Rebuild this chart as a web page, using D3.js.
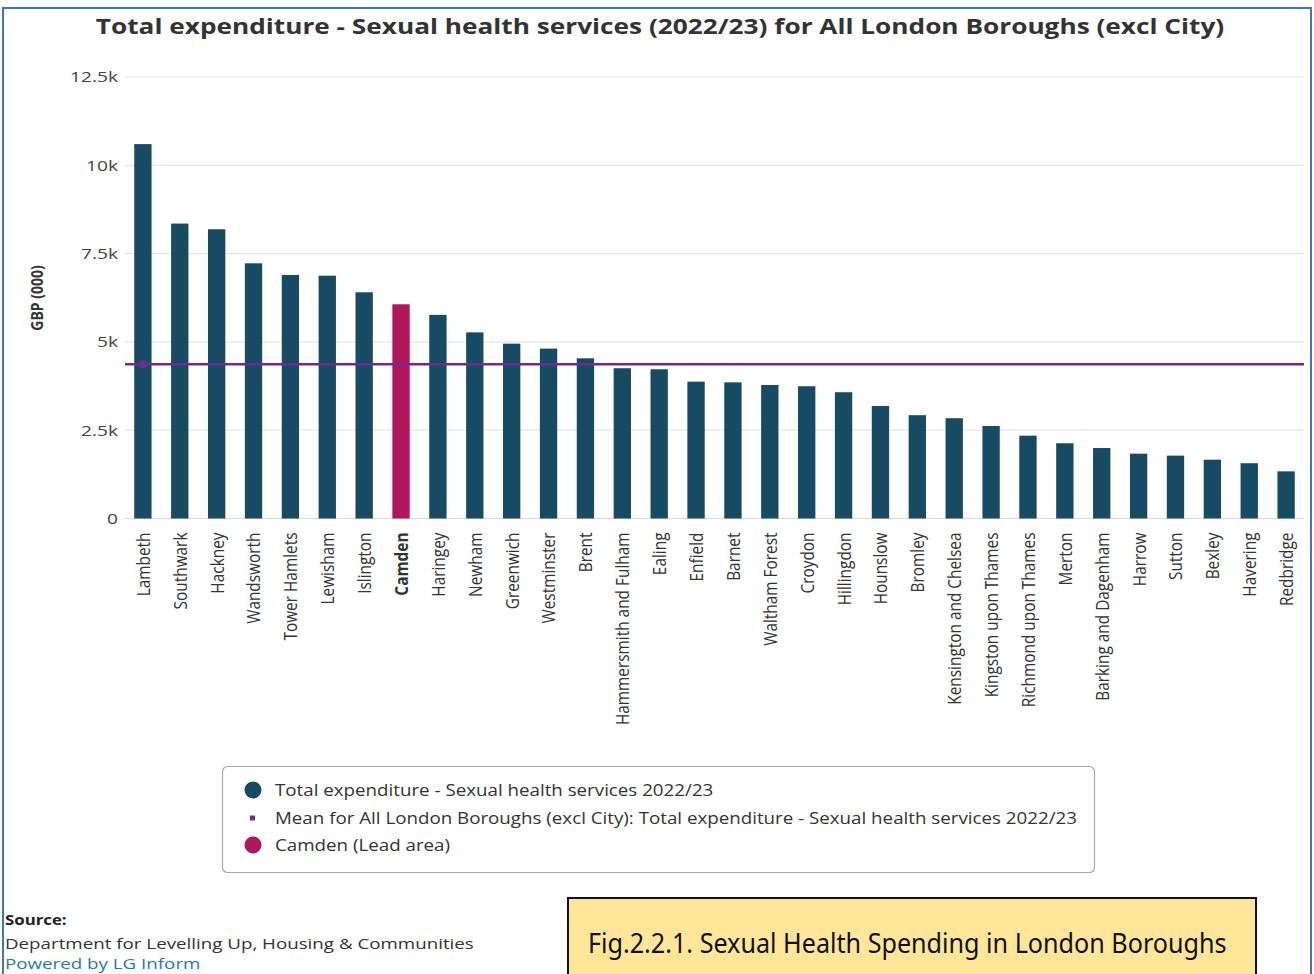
<!DOCTYPE html>
<html>
<head>
<meta charset="utf-8">
<script src="https://cdn.jsdelivr.net/npm/d3@7/dist/d3.min.js"></script>
<style>
  html, body { margin: 0; padding: 0; background: #ffffff; }
  svg { display: block; }
</style>
</head>
<body>
<svg id="chart" width="1314" height="974"></svg>
<script>
const categories = [
  "Lambeth", "Southwark", "Hackney", "Wandsworth", "Tower Hamlets", "Lewisham",
  "Islington", "Camden", "Haringey", "Newham", "Greenwich", "Westminster", "Brent",
  "Hammersmith and Fulham", "Ealing", "Enfield", "Barnet", "Waltham Forest",
  "Croydon", "Hillingdon", "Hounslow", "Bromley", "Kensington and Chelsea",
  "Kingston upon Thames", "Richmond upon Thames", "Merton", "Barking and Dagenham",
  "Harrow", "Sutton", "Bexley", "Havering", "Redbridge"
];
const values = [
  10600, 8350, 8190, 7225, 6895, 6875,
  6405, 6065, 5765, 5270, 4950, 4810, 4535,
  4255, 4225, 3875, 3855, 3780,
  3745, 3575, 3185, 2925, 2840,
  2620, 2345, 2130, 1995,
  1835, 1780, 1665, 1565, 1335
];
const leadArea = "Camden";
const meanValue = 4366;
const yTickValues = [0, 2500, 5000, 7500, 10000, 12500];
const yTickLabels = ["0", "2.5k", "5k", "7.5k", "10k", "12.5k"];
const titleText = "Total expenditure - Sexual health services (2022/23) for All London Boroughs (excl City)";
const yAxisTitle = "GBP (000)";
const legendLabels = [
  "Total expenditure - Sexual health services 2022/23",
  "Mean for All London Boroughs (excl City): Total expenditure - Sexual health services 2022/23",
  "Camden (Lead area)"
];
const sourceLines = ["Source:", "Department for Levelling Up, Housing & Communities", "Powered by LG Inform"];
const captionText = "Fig.2.2.1. Sexual Health Spending in London Boroughs";

const COL_BAR = "#174b63";
const COL_LEAD = "#b0175a";
const COL_MEAN = "#6e2d8c";
const FONT = "'Open Sans', 'Noto Sans', sans-serif";
const SX = 1.22; // horizontal stretch of the source screenshot's text

const svg = d3.select("#chart");

// place a horizontally stretched text anchored at (ax, ay)
function stretched(parent, ax, ay, sx) {
  return parent.append("text")
    .attr("x", 0).attr("y", 0)
    .attr("transform", `translate(${ax},${ay}) scale(${sx},1)`);
}

// outer frame (blue border)
svg.append("path")
  .attr("d", "M3,974 L3,8 L1311,8 L1311,974")
  .attr("fill", "none").attr("stroke", "#4472c4").attr("stroke-width", 2);

// title
stretched(svg, 660, 25, SX)
  .attr("text-anchor", "middle").attr("dominant-baseline", "central")
  .attr("font-family", FONT).attr("font-weight", 700).attr("font-size", 21.5)
  .attr("fill", "#333333")
  .text(titleText);

const plotLeft = 125, plotRight = 1304;
const x = d3.scaleBand().domain(categories).range([plotLeft, plotRight])
  .paddingInner(0.53).paddingOuter(0.25);
const y = d3.scaleLinear().domain([0, 12500]).range([518.5, 77]);

// gridlines
svg.append("g").selectAll("line").data(yTickValues).join("line")
  .attr("x1", plotLeft).attr("x2", plotRight)
  .attr("y1", d => y(d)).attr("y2", d => y(d))
  .attr("stroke", d => d === 0 ? "#d8d8d8" : "#e6e6e6").attr("stroke-width", 1.2);

// y axis labels
const yAxis = d3.axisLeft(y).tickValues(yTickValues)
  .tickFormat((d, i) => yTickLabels[i]).tickSize(0).tickPadding(7);
const yg = svg.append("g").attr("transform", `translate(${plotLeft},0)`).call(yAxis);
yg.select(".domain").remove();
yg.selectAll("text")
  .attr("font-family", FONT).attr("font-size", 15).attr("fill", "#444444")
  .attr("x", -7 / 1.28).attr("transform", "scale(1.28,1)");

// y axis title
svg.append("text")
  .attr("transform", `translate(37,298) scale(1.15,1) rotate(-90)`)
  .attr("text-anchor", "middle").attr("dominant-baseline", "central")
  .attr("font-family", FONT).attr("font-weight", 700).attr("font-size", 14)
  .attr("fill", "#333333")
  .text(yAxisTitle);

// bars
svg.append("g").selectAll("rect").data(categories).join("rect")
  .attr("x", d => x(d)).attr("width", x.bandwidth())
  .attr("y", (d, i) => y(values[i]))
  .attr("height", (d, i) => y(0) - y(values[i]))
  .attr("fill", d => d === leadArea ? COL_LEAD : COL_BAR);

// x axis labels
const xAxis = d3.axisBottom(x).tickSize(0).tickPadding(0);
const xg = svg.append("g").attr("transform", `translate(0,${y(0)})`).call(xAxis);
xg.select(".domain").remove();
xg.selectAll("text")
  .attr("font-family", FONT).attr("font-size", 15.4).attr("fill", "#333333")
  .attr("font-weight", d => d === leadArea ? 700 : 400)
  .attr("text-anchor", "end")
  .attr("dy", null).attr("y", 0)
  .attr("transform", "translate(0,14) scale(1.15,1) rotate(-90)")
  .attr("dominant-baseline", "central");

// mean line
svg.append("line")
  .attr("x1", plotLeft).attr("x2", plotRight)
  .attr("y1", y(meanValue)).attr("y2", y(meanValue))
  .attr("stroke", COL_MEAN).attr("stroke-width", 2.5);
svg.append("circle")
  .attr("cx", x(categories[0]) + x.bandwidth() / 2).attr("cy", y(meanValue))
  .attr("r", 4).attr("fill", COL_MEAN);

// legend
const lg = svg.append("g");
lg.append("rect").attr("x", 222.5).attr("y", 766.5).attr("width", 872).attr("height", 106)
  .attr("rx", 5).attr("fill", "#ffffff").attr("stroke", "#a8a8a8").attr("stroke-width", 1.2);
const legendRowsY = [790, 818, 845];
const legendColors = [COL_BAR, COL_MEAN, COL_LEAD];
legendLabels.forEach((lab, i) => {
  if (i === 1) {
    lg.append("rect").attr("x", 250).attr("y", legendRowsY[i] - 2.5).attr("width", 5).attr("height", 5)
      .attr("fill", legendColors[i]);
  } else {
    lg.append("circle").attr("cx", 253).attr("cy", legendRowsY[i]).attr("r", 8.5)
      .attr("fill", legendColors[i]);
  }
  stretched(lg, 275, legendRowsY[i], 1.21)
    .attr("dominant-baseline", "central")
    .attr("font-family", FONT).attr("font-size", 15.5).attr("fill", "#333333")
    .text(lab);
});

// source
stretched(svg, 5, 920, 1.2).attr("dominant-baseline", "central")
  .attr("font-family", FONT).attr("font-weight", 700).attr("font-size", 14).attr("fill", "#222222")
  .text(sourceLines[0]);
stretched(svg, 5, 943, 1.25).attr("dominant-baseline", "central")
  .attr("font-family", FONT).attr("font-size", 15).attr("fill", "#333333")
  .text(sourceLines[1]);
stretched(svg, 5, 963, 1.25).attr("dominant-baseline", "central")
  .attr("font-family", FONT).attr("font-size", 15).attr("fill", "#1f7aa8")
  .text(sourceLines[2]);

// caption box
svg.append("rect").attr("x", 568).attr("y", 898).attr("width", 688).attr("height", 90)
  .attr("fill", "#ffe699").attr("stroke", "#111111").attr("stroke-width", 2);
const cap = svg.append("text").attr("x", 0).attr("y", 0)
  .attr("dominant-baseline", "central")
  .attr("font-family", "'Liberation Sans Narrow', 'Noto Sans', sans-serif").attr("font-size", 27)
  .attr("fill", "#111111")
  .text(captionText);
const capW = cap.node().getComputedTextLength();
cap.attr("transform", `translate(588,943) scale(${639 / capW},1)`);
</script>
</body>
</html>
